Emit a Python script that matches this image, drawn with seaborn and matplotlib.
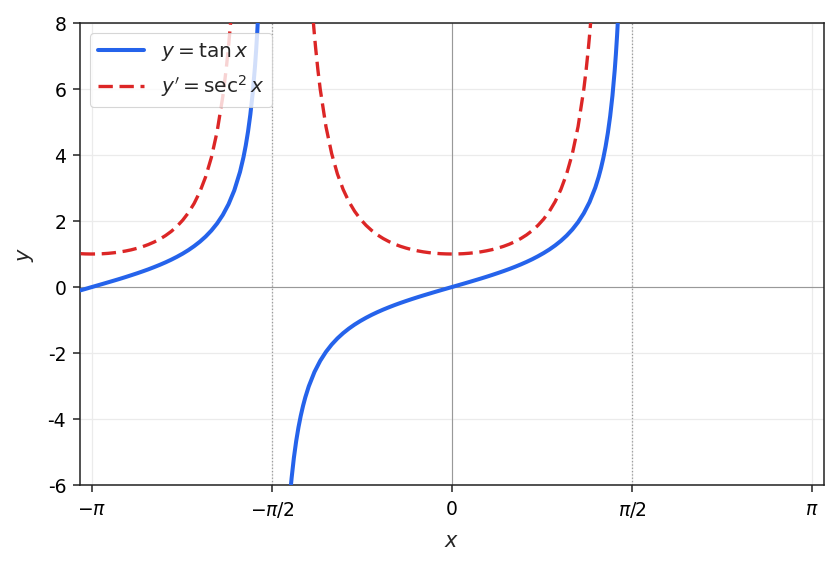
import matplotlib
matplotlib.use("Agg")
import matplotlib.pyplot as plt
import seaborn as sns
import numpy as np

# ---- data ----
# y = tan x, branch left of -pi/2
tan_left_x = [-3.24, -3.20, -3.15, -3.10, -3.05, -3.00, -2.95, -2.90, -2.85, -2.80,
              -2.75, -2.70, -2.65, -2.60, -2.55, -2.50, -2.45, -2.40, -2.35, -2.30,
              -2.25, -2.20, -2.15, -2.10, -2.05, -2.00, -1.95, -1.90, -1.85, -1.82,
              -1.80, -1.78, -1.76, -1.74, -1.72, -1.71, -1.70, -1.69, -1.68]
tan_left_y = [-0.099, -0.059, -0.008, 0.042, 0.092, 0.143, 0.194, 0.246, 0.300, 0.356,
              0.413, 0.473, 0.535, 0.602, 0.672, 0.747, 0.828, 0.916, 1.012, 1.119,
              1.239, 1.374, 1.529, 1.710, 1.925, 2.185, 2.510, 2.927, 3.488, 3.929,
              4.286, 4.710, 5.222, 5.854, 6.652, 7.137, 7.697, 8.350, 9.121]

# y = tan x, branch between -pi/2 and pi/2
tan_mid_x = [-1.42, -1.41, -1.40, -1.38, -1.36, -1.34, -1.32, -1.30, -1.28, -1.25,
             -1.20, -1.15, -1.10, -1.05, -1.00, -0.95, -0.90, -0.85, -0.80, -0.75,
             -0.70, -0.65, -0.60, -0.55, -0.50, -0.45, -0.40, -0.35, -0.30, -0.25,
             -0.20, -0.15, -0.10, -0.05, 0.00, 0.05, 0.10, 0.15, 0.20, 0.25,
             0.30, 0.35, 0.40, 0.45, 0.50, 0.55, 0.60, 0.65, 0.70, 0.75,
             0.80, 0.85, 0.90, 0.95, 1.00, 1.05, 1.10, 1.15, 1.20, 1.25,
             1.28, 1.30, 1.32, 1.34, 1.36, 1.38, 1.40, 1.42, 1.43, 1.44,
             1.45, 1.46]
tan_mid_y = [-6.581, -6.165, -5.798, -5.177, -4.673, -4.255, -3.903, -3.602, -3.341, -3.010,
             -2.572, -2.235, -1.965, -1.743, -1.557, -1.398, -1.260, -1.138, -1.030, -0.932,
             -0.842, -0.760, -0.684, -0.613, -0.546, -0.483, -0.423, -0.365, -0.309, -0.255,
             -0.203, -0.151, -0.100, -0.050, 0.000, 0.050, 0.100, 0.151, 0.203, 0.255,
             0.309, 0.365, 0.423, 0.483, 0.546, 0.613, 0.684, 0.760, 0.842, 0.932,
             1.030, 1.138, 1.260, 1.398, 1.557, 1.743, 1.965, 2.235, 2.572, 3.010,
             3.341, 3.602, 3.903, 4.255, 4.673, 5.177, 5.798, 6.581, 7.055, 7.602,
             8.238, 8.989]

# y' = sec^2 x, branch left of -pi/2
sec_left_x = [-3.24, -3.20, -3.15, -3.10, -3.05, -3.00, -2.95, -2.90, -2.85, -2.80,
              -2.75, -2.70, -2.65, -2.60, -2.55, -2.50, -2.45, -2.40, -2.35, -2.30,
              -2.25, -2.20, -2.15, -2.10, -2.05, -2.00, -1.97, -1.95, -1.93, -1.91,
              -1.89]
sec_left_y = [1.010, 1.003, 1.000, 1.002, 1.008, 1.020, 1.038, 1.061, 1.090, 1.126,
              1.171, 1.223, 1.287, 1.362, 1.451, 1.558, 1.685, 1.839, 2.025, 2.252,
              2.534, 2.887, 3.338, 3.924, 4.705, 5.774, 6.619, 7.298, 8.093, 9.032,
              10.155]

# y' = sec^2 x, branch between -pi/2 and pi/2
sec_mid_x = [-1.24, -1.22, -1.21, -1.20, -1.19, -1.17, -1.15, -1.10, -1.05, -1.00,
             -0.95, -0.90, -0.85, -0.80, -0.75, -0.70, -0.65, -0.60, -0.55, -0.50,
             -0.45, -0.40, -0.35, -0.30, -0.25, -0.20, -0.15, -0.10, -0.05, 0.00,
             0.05, 0.10, 0.15, 0.20, 0.25, 0.30, 0.35, 0.40, 0.45, 0.50,
             0.55, 0.60, 0.65, 0.70, 0.75, 0.80, 0.85, 0.90, 0.95, 1.00,
             1.05, 1.10, 1.15, 1.17, 1.19, 1.20, 1.21, 1.22, 1.24]
sec_mid_y = [9.479, 8.468, 8.024, 7.616, 7.240, 6.568, 5.993, 4.860, 4.039, 3.426,
             2.956, 2.588, 2.296, 2.060, 1.868, 1.710, 1.578, 1.468, 1.376, 1.298,
             1.233, 1.179, 1.133, 1.096, 1.065, 1.041, 1.023, 1.010, 1.003, 1.000,
             1.003, 1.010, 1.023, 1.041, 1.065, 1.096, 1.133, 1.179, 1.233, 1.298,
             1.376, 1.468, 1.578, 1.710, 1.868, 2.060, 2.296, 2.588, 2.956, 3.426,
             4.039, 4.860, 5.993, 6.568, 7.240, 7.616, 8.024, 8.468, 9.479]

xtick_vals = [-np.pi, -np.pi / 2, 0, np.pi / 2, np.pi]
xtick_labels = [r"$-\pi$", r"$-\pi/2$", "0", r"$\pi/2$", r"$\pi$"]
ytick_vals = [-6, -4, -2, 0, 2, 4, 6, 8]
ytick_labels = ["-6", "-4", "-2", "0", "2", "4", "6", "8"]

BLUE = "#2563eb"
RED = "#dc2626"
DASH = (4.3, 2.0)

sns.set_theme(style="ticks")
plt.rcParams["font.family"] = ["DejaVu Sans"]

fig = plt.figure(figsize=(8.38, 5.68), dpi=100)
ax = fig.add_axes([0.0955, 0.1461, 0.8878, 0.8134])

ax.grid(True, color="#ebebeb", linewidth=0.9, zorder=0)
ax.axhline(0, color="#999999", linewidth=0.8, zorder=1)
ax.axvline(0, color="#999999", linewidth=0.8, zorder=1)
for v in (-np.pi / 2, np.pi / 2):
    ax.axvline(v, color="#999999", linewidth=0.9, linestyle=":", zorder=1)

sns.lineplot(x=tan_left_x, y=tan_left_y, ax=ax, color=BLUE, linewidth=2.9,
             sort=False, label=r"$y = \tan x$", zorder=3)
sns.lineplot(x=tan_mid_x, y=tan_mid_y, ax=ax, color=BLUE, linewidth=2.9,
             sort=False, zorder=3)
sns.lineplot(x=sec_left_x, y=sec_left_y, ax=ax, color=RED, linewidth=2.4,
             dashes=False, sort=False, label=r"$y' = \sec^2 x$", zorder=3)
sns.lineplot(x=sec_mid_x, y=sec_mid_y, ax=ax, color=RED, linewidth=2.4,
             dashes=False, sort=False, zorder=3)
for ln in ax.get_lines()[-2:]:
    ln.set_dashes(DASH)

ax.set_xlim(-3.246, 3.246)
ax.set_ylim(-6, 8)
ax.set_xticks(xtick_vals)
ax.set_xticklabels(xtick_labels, fontsize=13.5)
ax.set_yticks(ytick_vals)
ax.set_yticklabels(ytick_labels, fontsize=13.5)
ax.set_xlabel(r"$x$", fontsize=15, labelpad=8)
ax.set_ylabel(r"$y$", fontsize=15, labelpad=8)
for s in ax.spines.values():
    s.set_visible(True)
    s.set_color("#222222")
    s.set_linewidth(1.1)
ax.tick_params(axis="both", colors="#222222", length=5, width=1.1,
               labelcolor="black", pad=5)
ax.tick_params(axis="x", pad=6)

leg = ax.legend(loc="upper left", fontsize=14.5, frameon=True, framealpha=0.8,
                edgecolor="#cccccc", handlelength=2.3, borderpad=0.4)
leg.get_frame().set_linewidth(0.8)
for ln in leg.get_lines():
    if ln.get_color() == RED:
        ln.set_dashes(DASH)

fig.savefig("out.png", dpi=100)
